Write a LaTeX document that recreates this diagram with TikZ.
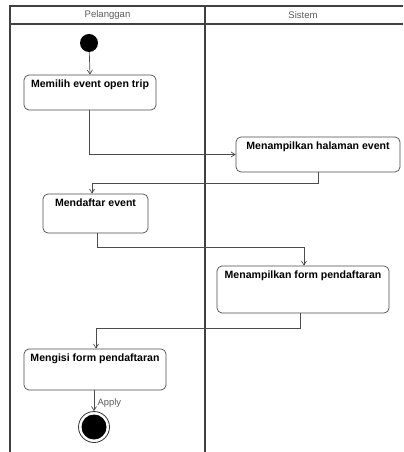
\documentclass[tikz,border=0pt]{standalone}
\usepackage{fontspec}
\setmainfont{Liberation Sans}
\usetikzlibrary{arrows.meta}

\tikzset{
  lane/.style={draw=black!75, line width=1.2bp},
  act/.style={draw=black!70, line width=0.7bp, rounded corners=5bp, fill=white, inner sep=0pt},
  acttext/.style={anchor=north, inner sep=5bp, font=\fontsize{10.6}{12}\selectfont\bfseries},
  head/.style={font=\fontsize{9.6}{11}\selectfont, text=black!65},
  flow/.style={draw=black!70, line width=0.7bp, -{Straight Barb[length=4bp,width=5bp]}},
}

\begin{document}
\begin{tikzpicture}[x=1bp, y=-1bp]
  \useasboundingbox (0,0) rectangle (403,452);

  % swimlanes
  \draw[lane] (10,452) -- (10,6) -- (403,6);
  \draw[lane] (10,24) -- (403,24);
  \draw[lane] (205,6) -- (205,452);
  \node[head] (hp) at (107.5,15) {Pelanggan};
  \node[head] (hs) at (303,15) {Sistem};

  % start node
  \node[circle, fill=black, minimum size=18bp, inner sep=0pt] (start) at (89,43) {};

  % actions
  \node[act, minimum width=132bp, minimum height=35bp] (b1) at (90,92.5) {};
  \node[acttext] at (b1.north) {Memilih event open trip};

  \node[act, minimum width=164bp, minimum height=35bp] (b2) at (318,154.5) {};
  \node[acttext] at (b2.north) {Menampilkan halaman event};

  \node[act, minimum width=105bp, minimum height=39bp] (b3) at (95.5,213.5) {};
  \node[acttext] at (b3.north) {Mendaftar event};

  \node[act, minimum width=172bp, minimum height=47bp] (b4) at (303,289.5) {};
  \node[acttext] at (b4.north) {Menampilkan form pendaftaran};

  \node[act, minimum width=142bp, minimum height=41bp] (b5) at (95,369.5) {};
  \node[acttext] at (b5.north) {Mengisi form pendaftaran};

  % final node
  \node[circle, draw=black!80, line width=0.8bp, minimum size=31bp, inner sep=0pt] (end) at (94,427) {};
  \node[circle, fill=black, minimum size=25bp, inner sep=0pt] (endin) at (end.center) {};

  % control flow
  \draw[flow] (start) -- (b1.north);
  \draw[flow] ([xshift=-1bp]b1.south) |- (b2.west);
  \coordinate (k2) at ([yshift=-11bp]b2.south);
  \draw[flow] (b2.south) -- (k2) -| ([xshift=-3.5bp]b3.north);
  \coordinate (k3) at ([yshift=-14bp,xshift=1.5bp]b3.south);
  \draw[flow] ([xshift=1.5bp]b3.south) -- (k3) -| ([xshift=1bp]b4.north);
  \coordinate (k4) at ([yshift=-15bp,xshift=-3bp]b4.south);
  \draw[flow] ([xshift=-3bp]b4.south) -- (k4) -| ([xshift=1bp]b5.north);
  \draw[flow] ([xshift=-1bp]b5.south) -- node[right, font=\fontsize{9.4}{10}\selectfont, text=black!65, pos=0.6] {Apply} (end.north);
\end{tikzpicture}
\end{document}
